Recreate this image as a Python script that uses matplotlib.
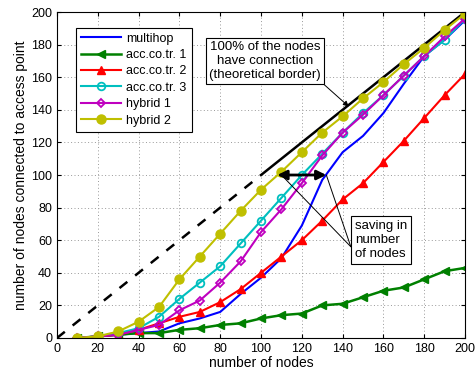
import matplotlib
matplotlib.use('Agg')
import matplotlib.pyplot as plt
import numpy as np

plt.rcParams['font.family'] = ['Liberation Sans', 'DejaVu Sans']

nodes = [10, 20, 30, 40, 50, 60, 70, 80, 90, 100,
         110, 120, 130, 140, 150, 160, 170, 180, 190, 200]

multihop = [0, 1, 2, 3, 4, 9, 12, 16, 27, 37, 49, 69, 97, 114, 124, 138, 156, 173, 183, 195]
acc1 = [0, 1, 2, 3, 3, 5, 6, 8, 9, 12, 14, 15, 20, 21, 25, 29, 31, 36, 41, 43]
acc2 = [0, 1, 2, 5, 9, 13, 16, 22, 30, 40, 50, 60, 72, 85, 95, 108, 121, 135, 149, 162]
acc3 = [0, 1, 3, 6, 13, 24, 34, 44, 58, 72, 86, 100, 113, 126, 138, 149, 161, 173, 183, 196]
hybrid1 = [0, 1, 2, 5, 8, 17, 23, 34, 47, 65, 79, 95, 112, 126, 137, 149, 161, 173, 185, 196]
hybrid2 = [0, 1, 4, 10, 19, 36, 50, 64, 78, 91, 102, 114, 126, 136, 147, 157, 168, 178, 189, 199]

border_dashed = [0, 97]
border_solid = [100, 200]

fig = plt.figure(figsize=(4.77, 3.70), dpi=100)
ax = fig.add_axes([0.1195, 0.0865, 0.8555, 0.881])

# theoretical border
ax.plot(border_dashed, border_dashed, 'k--', lw=1.8, dashes=(4, 4))
ax.plot(border_solid, border_solid, 'k-', lw=1.8)

ax.plot(nodes, multihop, color='#0000ff', lw=1.5, label='multihop')
ax.plot(nodes, acc1, color='#008000', lw=1.8, marker='<', ms=5.5, label='acc.co.tr. 1')
ax.plot(nodes, acc2, color='#ff0000', lw=1.5, marker='^', ms=5.5, label='acc.co.tr. 2')
ax.plot(nodes, acc3, color='#00bfbf', lw=1.5, marker='o', ms=5.5, mfc='none', mew=1.3,
        label='acc.co.tr. 3')
ax.plot(nodes, hybrid1, color='#bf00bf', lw=1.5, marker='D', ms=4.5, mfc='none', mew=1.3,
        label='hybrid 1')
ax.plot(nodes, hybrid2, color='#bfbf00', lw=1.5, marker='o', ms=6.5, label='hybrid 2')

# saving arrow
ax.annotate('', xy=(108, 100), xytext=(132, 100),
            arrowprops=dict(arrowstyle='<|-|>', color='k', lw=2, mutation_scale=14,
                            shrinkA=0, shrinkB=0))

ax.annotate('100% of the nodes\nhave connection\n(theoretical border)',
            xy=(143, 142), xytext=(102, 170), ha='center', va='center', fontsize=9.5,
            bbox=dict(boxstyle='square,pad=0.25', fc='white', ec='k', lw=0.8),
            arrowprops=dict(arrowstyle='-|>', color='k', lw=0.7, mutation_scale=8,
                            relpos=(0.97, 0.05), shrinkA=0, shrinkB=0))

ax.text(146, 60, 'saving in\nnumber\nof nodes', ha='left', va='center', fontsize=9.5,
        bbox=dict(boxstyle='square,pad=0.3', fc='white', ec='k', lw=0.8))
for tgt in [(110, 100), (132, 100)]:
    ax.annotate('', xy=tgt, xytext=(144, 56),
                arrowprops=dict(arrowstyle='-', color='k', lw=0.7, shrinkA=0, shrinkB=0))

ax.set_xlim(0, 200)
ax.set_ylim(0, 200)
ax.set_xticks(np.arange(0, 201, 20))
ax.set_yticks(np.arange(0, 201, 20))
ax.tick_params(direction='in', top=True, right=True, labelsize=9, length=3)
ax.grid(True, color='#999999', linestyle=(0, (1, 2.5)), lw=0.7)
ax.set_xlabel('number of nodes', fontsize=10, labelpad=1)
ax.set_ylabel('number of nodes connected to access point', fontsize=10, labelpad=2)

leg = ax.legend(loc='upper left', bbox_to_anchor=(0.047, 0.952), borderaxespad=0,
                fontsize=9, fancybox=False, framealpha=1, edgecolor='k',
                handlelength=3.2, borderpad=0.4, labelspacing=0.35, handletextpad=0.4)
leg.get_frame().set_linewidth(0.8)

fig.savefig('out.png', dpi=100)
